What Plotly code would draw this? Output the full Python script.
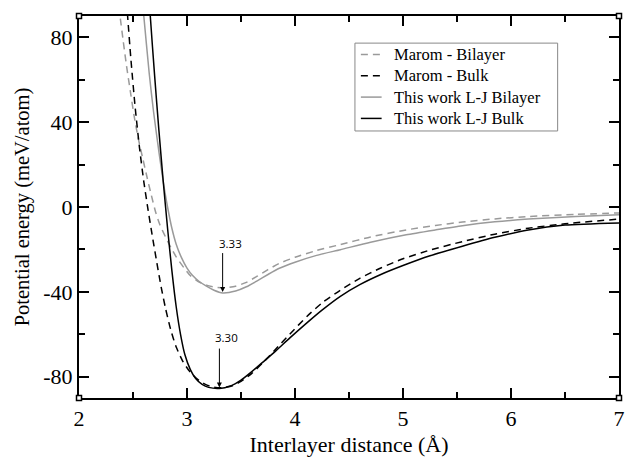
import plotly.graph_objects as go

# ---- data ----
marom_bilayer_x = [2.36, 2.38, 2.41, 2.44, 2.48, 2.51, 2.55, 2.59, 2.63, 2.67, 2.71, 2.75, 2.80, 2.85, 2.90, 2.97, 3.03, 3.10, 3.18, 3.26, 3.35, 3.45, 3.55, 3.65, 3.75, 3.85, 4.0, 4.2, 4.42, 4.7, 5.03, 5.3, 5.55, 5.85, 6.16, 6.6, 7.0]
marom_bilayer_y = [100, 90, 78, 66.5, 53, 43, 32, 23, 14, 5.5, -2.5, -8.5, -14, -19, -23.5, -28.5, -32.3, -35, -36.8, -37.8, -38.1, -37.3, -35.5, -32.6, -29.5, -26.7, -23.7, -20.5, -17.7, -14.1, -10.8, -8.7, -7.1, -5.6, -4.5, -3.5, -2.8]

marom_bulk_x = [2.44, 2.45, 2.48, 2.52, 2.56, 2.60, 2.64, 2.68, 2.72, 2.76, 2.80, 2.85, 2.90, 2.96, 3.02, 3.09, 3.17, 3.25, 3.32, 3.42, 3.50, 3.60, 3.70, 3.81, 3.95, 4.11, 4.25, 4.42, 4.60, 4.80, 5.0, 5.25, 5.55, 5.85, 6.16, 6.5, 7.0]
marom_bulk_y = [97, 90, 70, 47, 28, 12, -1.5, -14, -26, -37.5, -47.5, -58, -66, -72.6, -77.2, -80.9, -83.6, -84.9, -85.2, -84.2, -82.2, -78.4, -73.5, -67.6, -60, -51.6, -45.2, -39.2, -33.6, -28.6, -24.4, -20.3, -16.3, -12.8, -10.0, -7.9, -5.7]

lj_bilayer_x = [2.58, 2.60, 2.65, 2.69, 2.74, 2.78, 2.82, 2.86, 2.90, 2.95, 3.00, 3.05, 3.11, 3.18, 3.25, 3.33, 3.45, 3.55, 3.65, 3.75, 3.85, 4.0, 4.2, 4.42, 4.7, 5.03, 5.3, 5.55, 5.85, 6.16, 6.6, 7.0]
lj_bilayer_y = [100, 90, 63, 45, 26, 12, 0, -10, -17.5, -24, -28.8, -32.2, -35, -37.3, -39.2, -40.5, -39.6, -37.6, -34.8, -31.8, -29.0, -26.0, -22.8, -20.1, -16.6, -13.1, -10.8, -8.8, -7.0, -5.7, -4.5, -3.6]

lj_bulk_x = [2.655, 2.66, 2.70, 2.74, 2.78, 2.82, 2.86, 2.90, 2.94, 2.98, 3.03, 3.08, 3.14, 3.20, 3.30, 3.40, 3.50, 3.60, 3.70, 3.81, 3.95, 4.11, 4.25, 4.42, 4.60, 4.80, 5.0, 5.25, 5.55, 5.85, 6.16, 6.5, 7.0]
lj_bulk_y = [95, 90, 62, 36, 12, -10, -30, -47, -60, -69.5, -76.5, -80.8, -83.6, -85.0, -85.5, -84.4, -81.6, -77.6, -73.2, -68.4, -61.8, -54.6, -48.6, -42.1, -36.6, -31.7, -27.6, -23.0, -18.5, -14.3, -10.8, -8.5, -7.5]

series_names = ["Marom - Bilayer", "Marom - Bulk", "This work L-J Bilayer", "This work L-J Bulk"]

x_ticks = [2, 3, 4, 5, 6, 7]
x_tick_labels = ["2", "3", "4", "5", "6", "7"]
y_ticks = [-80, -40, 0, 40, 80]
y_tick_labels = ["-80", "-40", "0", "40", "80"]

min_bilayer = (3.33, -40.5, "3.33")
min_bulk = (3.30, -85.5, "3.30")

GRAY = "#9a9a9a"
SERIF = "Liberation Serif, Times New Roman, serif"
DASH = "7px,5px"

fig = go.Figure()
styles = [
    (marom_bilayer_x, marom_bilayer_y, GRAY, DASH),
    (marom_bulk_x, marom_bulk_y, "black", DASH),
    (lj_bilayer_x, lj_bilayer_y, GRAY, "solid"),
    (lj_bulk_x, lj_bulk_y, "black", "solid"),
]
for name, (xs, ys, col, dash) in zip(series_names, styles):
    fig.add_trace(go.Scatter(
        x=xs, y=ys, mode="lines", name=name, showlegend=False,
        line=dict(color=col, width=1.5, dash=dash, shape="spline", smoothing=0.6),
    ))

# ---- legend box (drawn to match the compact original layout) ----
fig.add_shape(type="rect", xref="paper", yref="paper", x0=0.511, x1=0.8864, y0=0.699, y1=0.929,
              line=dict(color="#888888", width=1), fillcolor="white", layer="above")
legend_rows_y = [0.8992, 0.8435, 0.7877, 0.7319]
for name, (_, _, col, dash), ry in zip(series_names, styles, legend_rows_y):
    fig.add_shape(type="line", xref="paper", yref="paper", x0=0.522, x1=0.5604, y0=ry, y1=ry,
                  line=dict(color=col, width=1.5, dash=dash), layer="above")
    fig.add_annotation(x=0.5824, y=ry, xref="paper", yref="paper", text=name, showarrow=False,
                       xanchor="left", yanchor="middle", borderpad=0,
                       font=dict(family=SERIF, size=16.5, color="black"))

# annotations for minima
for (mx, my, label), arrow_top, text_y, text_dx in [
    (min_bilayer, -21, -17, 0.07),
    (min_bulk, -66, -61.5, 0.07),
]:
    fig.add_annotation(x=mx, y=my + 0.5, ax=mx, ay=arrow_top, xref="x", yref="y",
                       axref="x", ayref="y", text="", showarrow=True,
                       arrowhead=2, arrowsize=1, arrowwidth=1, arrowcolor="black")
    fig.add_annotation(x=mx + text_dx, y=text_y, xref="x", yref="y", text=label,
                       showarrow=False, font=dict(family="Open Sans, Liberation Sans, sans-serif", size=11.5, color="black"))

# corner squares
for cx, cy in [(0, 0), (1, 0), (0, 1), (1, 1)]:
    fig.add_shape(type="rect", xref="paper", yref="paper", xsizemode="pixel", ysizemode="pixel",
                  xanchor=cx, yanchor=cy, x0=-2.5, x1=2.5, y0=-2.5, y1=2.5,
                  line=dict(color="black", width=1.5), fillcolor="white", layer="above")

axis_common = dict(
    showgrid=False, zeroline=False, showline=True, linecolor="black", linewidth=2,
    mirror="allticks", ticks="inside", ticklen=10, tickwidth=1.5, tickcolor="black",
    tickfont=dict(family=SERIF, size=22, color="black"),
)

fig.update_xaxes(range=[2, 7], tickvals=x_ticks, ticktext=x_tick_labels,
                 minor=dict(dtick=0.5, ticks="inside", ticklen=6, tickwidth=1.5, tickcolor="black", showgrid=False),
                 title=dict(text="Interlayer distance (Å)", font=dict(family=SERIF, size=22, color="black"), standoff=6),
                 **axis_common)
fig.update_yaxes(range=[-90, 90], tickvals=y_ticks, ticktext=y_tick_labels,
                 minor=dict(dtick=20, tick0=0, ticks="inside", ticklen=6, tickwidth=1.5, tickcolor="black", showgrid=False),
                 title=dict(text="Potential energy (meV/atom)", font=dict(family=SERIF, size=20.5, color="black"), standoff=8),
                 **axis_common)

fig.update_layout(
    width=629, height=457,
    margin=dict(l=79, r=4, t=16, b=59),
    plot_bgcolor="white", paper_bgcolor="white",
    showlegend=False,
)

fig.write_html("out.html")
